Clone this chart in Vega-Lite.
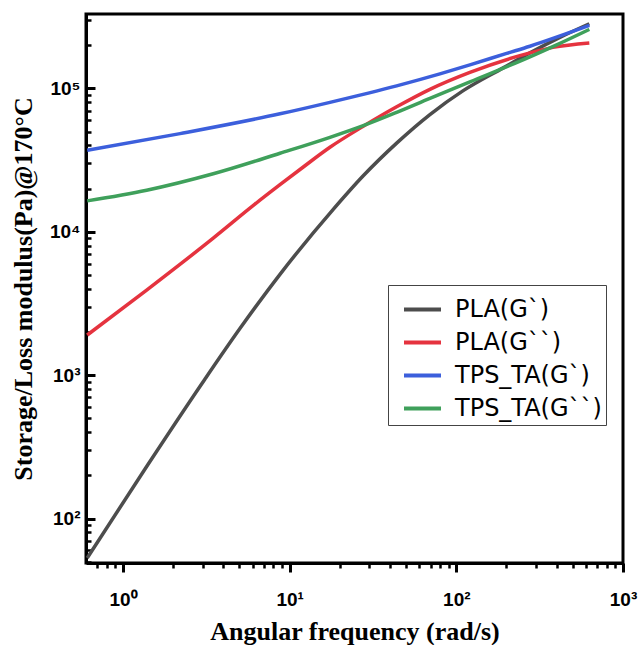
{
  "$schema": "https://vega.github.io/schema/vega-lite/v6.json",
  "width": 537,
  "height": 549,
  "autosize": {"type": "none"},
  "padding": {"left": 86, "top": 14, "right": 21, "bottom": 82},
  "background": "white",
  "config": {"view": {"stroke": "black", "strokeWidth": 3}, "axis": {"grid": false, "ticks": true}},
  "data": {
    "values": [
      {"series": "PLA(G`)", "w": 0.61, "G": 53.1},
      {"series": "PLA(G`)", "w": 1.387, "G": 231},
      {"series": "PLA(G`)", "w": 3.1, "G": 938},
      {"series": "PLA(G`)", "w": 5.03, "G": 2114},
      {"series": "PLA(G`)", "w": 8.75, "G": 5050},
      {"series": "PLA(G`)", "w": 18.26, "G": 14320},
      {"series": "PLA(G`)", "w": 27.64, "G": 24550},
      {"series": "PLA(G`)", "w": 43.85, "G": 41480},
      {"series": "PLA(G`)", "w": 69.43, "G": 65600},
      {"series": "PLA(G`)", "w": 110, "G": 96380},
      {"series": "PLA(G`)", "w": 191.1, "G": 138900},
      {"series": "PLA(G`)", "w": 276.4, "G": 176700},
      {"series": "PLA(G`)", "w": 418.2, "G": 226600},
      {"series": "PLA(G`)", "w": 628, "G": 282200},
      {"series": "PLA(G``)", "w": 0.61, "G": 1905},
      {"series": "PLA(G``)", "w": 1.387, "G": 3921},
      {"series": "PLA(G``)", "w": 3.48, "G": 9025},
      {"series": "PLA(G``)", "w": 6.19, "G": 15570},
      {"series": "PLA(G``)", "w": 8.75, "G": 21280},
      {"series": "PLA(G``)", "w": 12.02, "G": 28180},
      {"series": "PLA(G``)", "w": 17.45, "G": 38830},
      {"series": "PLA(G``)", "w": 27.64, "G": 54370},
      {"series": "PLA(G``)", "w": 43.85, "G": 74330},
      {"series": "PLA(G``)", "w": 69.43, "G": 98400},
      {"series": "PLA(G``)", "w": 120.6, "G": 129200},
      {"series": "PLA(G``)", "w": 276.4, "G": 176700},
      {"series": "PLA(G``)", "w": 379.7, "G": 193000},
      {"series": "PLA(G``)", "w": 628, "G": 207400},
      {"series": "TPS_TA(G`)", "w": 0.61, "G": 36980},
      {"series": "TPS_TA(G`)", "w": 2.2, "G": 48360},
      {"series": "TPS_TA(G`)", "w": 8.75, "G": 66440},
      {"series": "TPS_TA(G`)", "w": 17.45, "G": 79900},
      {"series": "TPS_TA(G`)", "w": 43.85, "G": 104100},
      {"series": "TPS_TA(G`)", "w": 79.7, "G": 126200},
      {"series": "TPS_TA(G`)", "w": 120.6, "G": 145800},
      {"series": "TPS_TA(G`)", "w": 200.4, "G": 175300},
      {"series": "TPS_TA(G`)", "w": 276.4, "G": 196700},
      {"series": "TPS_TA(G`)", "w": 628, "G": 274600},
      {"series": "TPS_TA(G``)", "w": 0.61, "G": 16420},
      {"series": "TPS_TA(G``)", "w": 1.387, "G": 19490},
      {"series": "TPS_TA(G``)", "w": 3.48, "G": 25390},
      {"series": "TPS_TA(G``)", "w": 8.75, "G": 35270},
      {"series": "TPS_TA(G``)", "w": 17.45, "G": 45580},
      {"series": "TPS_TA(G``)", "w": 27.64, "G": 55000},
      {"series": "TPS_TA(G``)", "w": 43.85, "G": 68070},
      {"series": "TPS_TA(G``)", "w": 69.43, "G": 85170},
      {"series": "TPS_TA(G``)", "w": 120.6, "G": 111000},
      {"series": "TPS_TA(G``)", "w": 276.4, "G": 165700},
      {"series": "TPS_TA(G``)", "w": 399.6, "G": 200900},
      {"series": "TPS_TA(G``)", "w": 628, "G": 257500}
    ]
  },
  "layer": [
    {
      "mark": {"type": "line", "opacity": 0},
      "encoding": {
        "x": {
          "field": "w",
          "type": "quantitative",
          "scale": {"type": "log", "domain": [0.6, 1000], "nice": false},
          "axis": {
            "orient": "bottom",
            "title": null,
            "labels": false,
            "domain": false,
            "ticks": true,
            "values": [0.7, 0.8, 0.9, 2, 3, 4, 5, 6, 7, 8, 9, 20, 30, 40, 50, 60, 70, 80, 90, 200, 300, 400, 500, 600, 700, 800, 900],
            "tickColor": "black",
            "tickOpacity": 1,
            "tickSize": 5,
            "tickWidth": 2.5
          }
        },
        "y": {
          "field": "G",
          "type": "quantitative",
          "scale": {"type": "log", "domain": [49, 330000], "nice": false},
          "axis": {
            "orient": "left",
            "title": null,
            "labels": false,
            "domain": false,
            "ticks": true,
            "values": [50, 60, 70, 80, 90, 200, 300, 400, 500, 600, 700, 800, 900, 2000, 3000, 4000, 5000, 6000, 7000, 8000, 9000, 20000, 30000, 40000, 50000, 60000, 70000, 80000, 90000, 200000, 300000],
            "tickColor": "black",
            "tickOpacity": 1,
            "tickSize": -5,
            "tickWidth": 2.5
          }
        },
        "detail": {"field": "series"}
      }
    },
    {
      "mark": {"type": "line", "strokeWidth": 3.5, "interpolate": "monotone"},
      "encoding": {
        "x": {
          "field": "w",
          "type": "quantitative",
          "scale": {"type": "log", "domain": [0.6, 1000], "nice": false},
          "axis": {
            "orient": "bottom",
            "title": "Angular frequency (rad/s)",
            "titleFont": "Liberation Serif",
            "titleFontWeight": "bold",
            "titleFontSize": 26,
            "titleColor": "black",
            "titlePadding": 9,
            "values": [1, 10, 100, 1000],
            "labelExpr": "datum.value == 1 ? '10⁰' : datum.value == 10 ? '10¹' : datum.value == 100 ? '10²' : '10³'",
            "labelFont": "Liberation Sans",
            "labelFontWeight": "bold",
            "labelFontSize": 19,
            "labelColor": "black",
            "labelPadding": 18,
            "labelOverlap": false,
            "labelFlush": false,
            "domainColor": "black",
            "domainWidth": 3,
            "ticks": true,
            "tickColor": "black",
            "tickOpacity": 1,
            "tickSize": 9,
            "tickWidth": 3
          }
        },
        "y": {
          "field": "G",
          "type": "quantitative",
          "scale": {"type": "log", "domain": [49, 330000], "nice": false},
          "axis": {
            "orient": "left",
            "title": "Storage/Loss modulus(Pa)@170°C",
            "titleFont": "Liberation Serif",
            "titleFontWeight": "bold",
            "titleFontSize": 26,
            "titleColor": "black",
            "titlePadding": 13,
            "values": [100, 1000, 10000, 100000],
            "labelExpr": "datum.value == 100 ? '10²' : datum.value == 1000 ? '10³' : datum.value == 10000 ? '10⁴' : '10⁵'",
            "labelFont": "Liberation Sans",
            "labelFontWeight": "bold",
            "labelFontSize": 19,
            "labelColor": "black",
            "labelPadding": 15,
            "labelOverlap": false,
            "labelFlush": false,
            "domainColor": "black",
            "domainWidth": 3,
            "ticks": true,
            "tickColor": "black",
            "tickOpacity": 1,
            "tickSize": -9,
            "tickWidth": 3
          }
        },
        "color": {
          "field": "series",
          "type": "nominal",
          "scale": {
            "domain": ["PLA(G`)", "PLA(G``)", "TPS_TA(G`)", "TPS_TA(G``)"],
            "range": ["#4d4d4d", "#e5333f", "#3c5fdc", "#3fa05b"]
          },
          "legend": {
            "orient": "none",
            "legendX": 302,
            "legendY": 271,
            "title": null,
            "symbolType": "stroke",
            "symbolSize": 1369,
            "symbolStrokeWidth": 4,
            "symbolOffset": 10,
            "labelFont": "DejaVu Sans",
            "labelFontSize": 24,
            "labelColor": "black",
            "labelOffset": 12,
            "rowPadding": -8,
            "strokeColor": "#444444",
            "fillColor": "white",
            "padding": 4,
            "labelLimit": 300
          }
        }
      }
    }
  ],
  "resolve": {"axis": {"x": "independent", "y": "independent"}}
}
